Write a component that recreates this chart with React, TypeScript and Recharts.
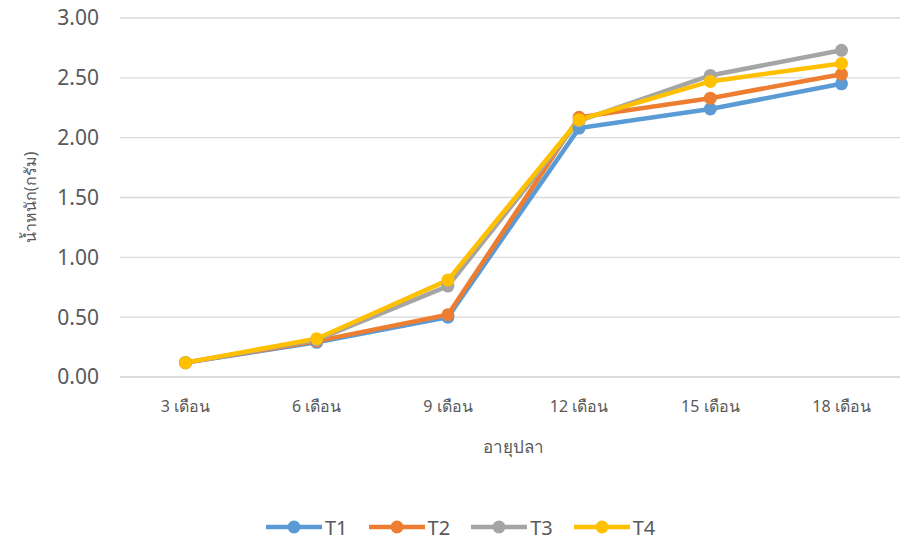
import React from "react";
import { LineChart, Line, XAxis, YAxis, CartesianGrid, Legend, Label } from "recharts";

const categories = ["3 เดือน", "6 เดือน", "9 เดือน", "12 เดือน", "15 เดือน", "18 เดือน"];
const t1 = [0.12, 0.29, 0.5, 2.08, 2.24, 2.45];
const t2 = [0.12, 0.3, 0.52, 2.17, 2.33, 2.53];
const t3 = [0.12, 0.31, 0.76, 2.14, 2.52, 2.73];
const t4 = [0.12, 0.32, 0.81, 2.15, 2.47, 2.62];
const yTicks = [0, 0.5, 1, 1.5, 2, 2.5, 3];
const seriesNames = ["T1", "T2", "T3", "T4"];
const colors = ["#5B9BD5", "#ED7D31", "#A5A5A5", "#FFC000"];
const yLabel = "น้ำหนัก(กรัม)";
const xLabel = "อายุปลา";

const data = categories.map((c, i) => ({ name: c, T1: t1[i], T2: t2[i], T3: t3[i], T4: t4[i] }));

const FONT = "'Noto Sans', 'DejaVu Sans', sans-serif";

const LegendContent = () => (
  <div style={{ display: "flex", justifyContent: "flex-start", alignItems: "center", height: 40, paddingTop: 14, paddingLeft: 266, boxSizing: "border-box", fontFamily: FONT }}>
    {seriesNames.map((n, i) => (
      <div key={n} style={{ display: "flex", alignItems: "center", marginRight: i < seriesNames.length - 1 ? 21 : 0 }}>
        <svg width={56} height={14}>
          <line x1={0} y1={7} x2={56} y2={7} stroke={colors[i]} strokeWidth={4.5} />
          <circle cx={28} cy={7} r={6.5} fill={colors[i]} />
        </svg>
        <span style={{ marginLeft: 3, fontSize: 20, color: "#595959" }}>{n}</span>
      </div>
    ))}
  </div>
);

const YLabelContent = (props: any) => {
  const vb = props.viewBox || { x: 0, y: 0, width: 0, height: 0 };
  const cy = vb.y + vb.height / 2;
  const cx = 30;
  return (
    <text x={cx} y={cy} transform={`rotate(-90, ${cx}, ${cy})`} textAnchor="middle" dominantBaseline="central" fontSize={16} fill="#595959" fontFamily={FONT}>
      {yLabel}
    </text>
  );
};

export default function App() {
  return (
    <div style={{ position: "absolute", left: 0, top: 0, width: 900, height: 540, overflow: "hidden", background: "#fff" }}>
      <LineChart width={910} height={540} data={data} margin={{ top: 18, right: 3, left: 0, bottom: 0 }} style={{ fontFamily: FONT }}>
        <CartesianGrid horizontal vertical={false} stroke="#D9D9D9" strokeWidth={1.3} />
        <XAxis
          dataKey="name"
          height={123}
          tickLine={false}
          axisLine={{ stroke: "#D9D9D9", strokeWidth: 1.3 }}
          tick={{ fontSize: 16, fill: "#595959" }}
          tickMargin={18}
          padding={{ left: 65.5, right: 65.5 }}
          interval={0}
        >
          <Label value={xLabel} position="insideTop" offset={64} fontSize={17} fill="#595959" />
        </XAxis>
        <YAxis
          width={120}
          domain={[0, 3]}
          ticks={yTicks}
          tickFormatter={(v: number) => v.toFixed(2)}
          tickLine={false}
          axisLine={false}
          tick={{ fontSize: 21, fill: "#595959" }}
          tickMargin={15}
          interval={0}
        >
          <Label content={YLabelContent} />
        </YAxis>
        <Legend verticalAlign="bottom" height={40} content={LegendContent} />
        {seriesNames.map((n, i) => (
          <Line
            key={n}
            type="linear"
            dataKey={n}
            stroke={colors[i]}
            strokeWidth={4.5}
            dot={{ r: 6.5, fill: colors[i], stroke: colors[i], strokeWidth: 0 }}
            activeDot={false}
            isAnimationActive={false}
          />
        ))}
      </LineChart>
    </div>
  );
}
